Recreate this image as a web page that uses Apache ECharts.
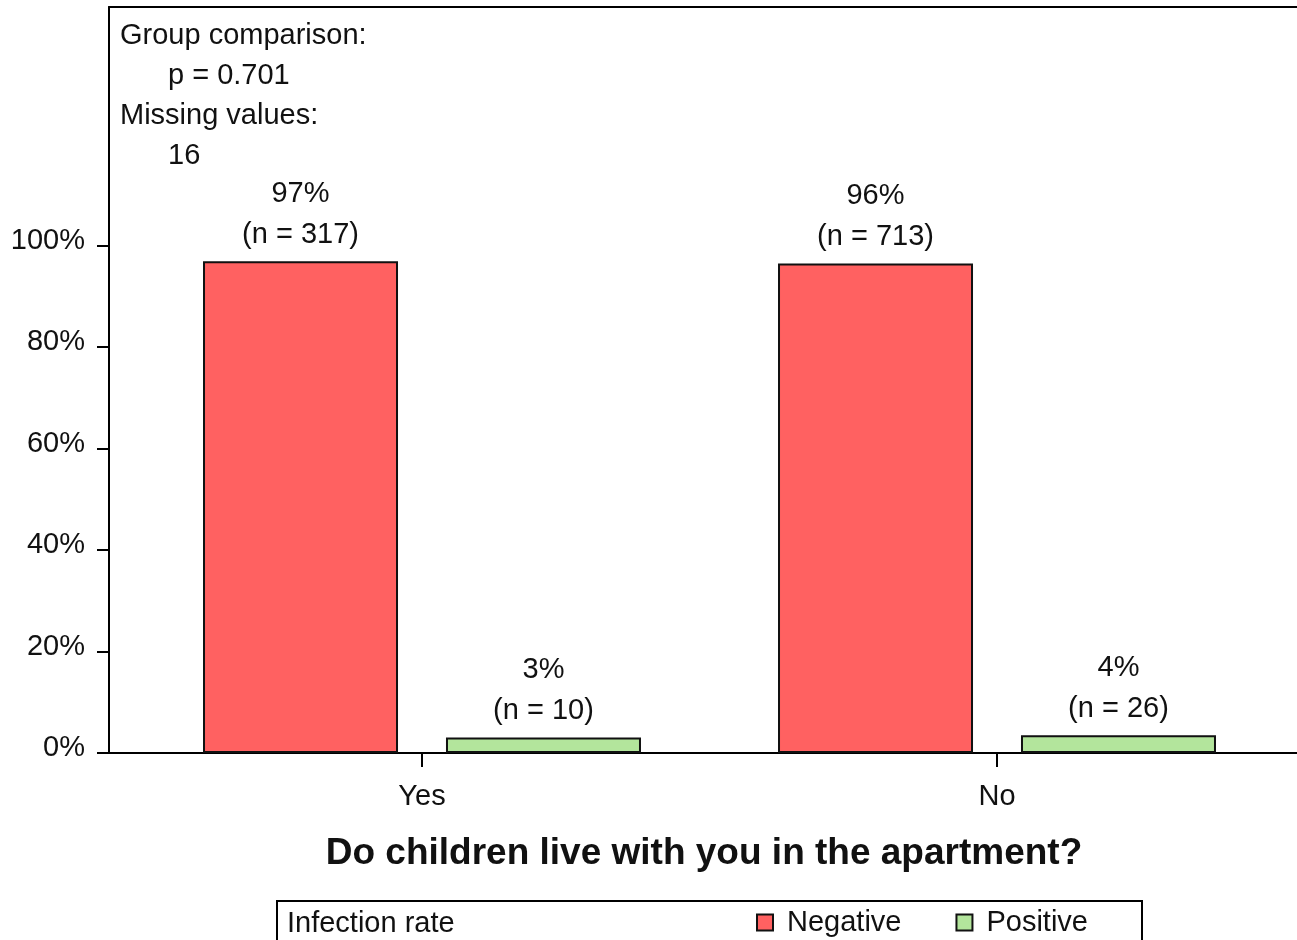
<!DOCTYPE html>
<html><head><meta charset="utf-8">
<script src="https://cdn.jsdelivr.net/npm/echarts@6/dist/echarts.min.js"></script>
<style>html,body{margin:0;padding:0;background:#fff}#chart{width:1297px;height:940px}</style>
</head><body><div id="chart"></div>
<script>
// ---- data ----
const categories = ['Yes', 'No'];
const seriesNames = ['Negative', 'Positive'];
const negativePct = [96.9, 96.48];
const positivePct = [3.06, 3.52];
const negativeN = [317, 713];
const positiveN = [10, 26];
const yTickValues = [0, 20, 40, 60, 80, 100];
const annotationLines = ['Group comparison:', 'p = 0.701', 'Missing values:', '16'];
const titleText = 'Do children live with you in the apartment?';
const legendTitle = 'Infection rate';

const FONT = '"Liberation Sans", Arial, Helvetica, sans-serif';
const TXT = '#111';
const colors = ['#FF6161', '#B3E59C'];

const chart = echarts.init(document.getElementById('chart'), null, {renderer: 'canvas'});

function labelFor(nArr) {
  return {
    show: true, position: 'top', distance: 6,
    fontFamily: FONT, fontSize: 29, color: TXT, lineHeight: 41,
    formatter: p => Math.round(p.value) + '%\n(n = ' + nArr[p.dataIndex] + ')'
  };
}

const annotationGraphics = annotationLines.map((t, i) => ({
  type: 'text',
  x: (i % 2 === 0) ? 120 : 168, y: 36 + i * 40,
  style: {text: t, font: '29px ' + FONT, fill: TXT, verticalAlign: 'middle', align: 'left'}
}));

const option = {
  backgroundColor: '#fff',
  animation: false,
  title: {
    text: titleText, left: 704, top: 835, textAlign: 'center', padding: 0,
    textStyle: {fontFamily: FONT, fontSize: 37, fontWeight: 'bold', color: TXT}
  },
  grid: [
    {left: 109, right: 0, top: 7, bottom: 187, containLabel: false},
    {left: 134.5, right: 12.5, top: 7, bottom: 187, containLabel: false}
  ],
  xAxis: [
    {gridIndex: 0, type: 'value', min: 0, max: 1, position: 'bottom',
     axisLine: {show: true, onZero: false, lineStyle: {color: '#000', width: 2}},
     axisTick: {show: false}, axisLabel: {show: false}, splitLine: {show: false}},
    {gridIndex: 0, type: 'value', min: 0, max: 1, position: 'top',
     axisLine: {show: true, onZero: false, lineStyle: {color: '#000', width: 2}},
     axisTick: {show: false}, axisLabel: {show: false}, splitLine: {show: false}},
    {gridIndex: 1, type: 'category', data: categories, position: 'bottom',
     axisLine: {show: false},
     axisTick: {show: true, alignWithLabel: true, length: 14, lineStyle: {color: '#000', width: 2}},
     axisLabel: {fontFamily: FONT, fontSize: 29, color: TXT, margin: 29},
     splitLine: {show: false}}
  ],
  yAxis: [
    {gridIndex: 0, type: 'value', min: 0, max: 147,
     axisLine: {show: true, lineStyle: {color: '#000', width: 2}},
     axisTick: {show: true, length: 12, customValues: yTickValues, lineStyle: {color: '#000', width: 2}},
     axisLabel: {show: true, customValues: yTickValues, formatter: v => v + '%',
       fontFamily: FONT, fontSize: 29, color: TXT, margin: 24, verticalAlign: 'bottom', lineHeight: 10},
     splitLine: {show: false}},
    {gridIndex: 1, type: 'value', min: 0, max: 147, show: false, splitLine: {show: false}}
  ],
  legend: {
    data: seriesNames, left: 756, top: 908, padding: 0,
    icon: 'rect', itemWidth: 16, itemHeight: 16, itemGap: 54,
    itemStyle: {borderColor: '#111', borderWidth: 2},
    textStyle: {fontFamily: FONT, fontSize: 29, color: TXT, padding: [0, 0, 0, 9]}
  },
  series: [
    {name: seriesNames[0], type: 'bar', xAxisIndex: 2, yAxisIndex: 1, data: negativePct,
     barWidth: 195, barGap: '24.6%',
     itemStyle: {color: colors[0], borderColor: '#111', borderWidth: 2},
     label: labelFor(negativeN)},
    {name: seriesNames[1], type: 'bar', xAxisIndex: 2, yAxisIndex: 1, data: positivePct,
     barWidth: 195, barGap: '24.6%',
     itemStyle: {color: colors[1], borderColor: '#111', borderWidth: 2},
     label: labelFor(positiveN)}
  ],
  graphic: [
    ...annotationGraphics,
    {type: 'rect', shape: {x: 277, y: 901, width: 865, height: 120},
     style: {fill: 'none', stroke: '#000', lineWidth: 2}},
    {type: 'text', x: 287, y: 924,
     style: {text: legendTitle, font: '29px ' + FONT, fill: TXT, verticalAlign: 'middle', align: 'left'}}
  ]
};
chart.setOption(option);
</script></body></html>
